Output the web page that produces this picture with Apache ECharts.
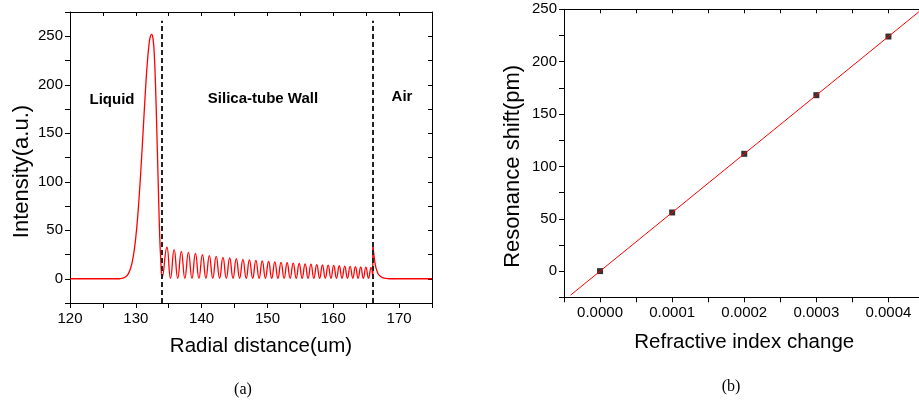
<!DOCTYPE html>
<html>
<head>
<meta charset="utf-8">
<script src="https://cdn.jsdelivr.net/npm/echarts@6/dist/echarts.min.js"></script>
<style>
  html, body { margin: 0; background: #fff; }
  #chart { width: 919px; height: 405px; }
</style>
</head>
<body>
<div id="chart"></div>
<script>
// (a) intensity profile across the tube
const liquidX = [120, 127.5, 128.0, 128.25, 128.5, 128.75, 129.0, 129.25, 129.5, 129.75, 130.0, 130.25, 130.5, 130.75,
  131.0, 131.25, 131.5, 131.75, 132.0, 132.2, 132.4, 132.6, 132.8, 133.0, 133.2, 133.4, 133.6, 133.8, 134.0]
const liquidY = [0, 0, 0.6, 1.2, 2.3, 4.1, 7.1, 11.8, 18.9, 29, 43, 61, 84, 110,
  139, 169, 198, 223, 241, 249.5, 252, 248, 232, 198, 150, 100, 50, 18, 1]

// peaks and troughs of the fringes inside the silica wall
const wallX = [134.72, 135.27, 135.82, 136.37, 136.91, 137.45, 137.99, 138.53, 139.06, 139.59,
  140.12, 140.65, 141.17, 141.69, 142.21, 142.73, 143.24, 143.75, 144.26, 144.77,
  145.27, 145.77, 146.27, 146.77, 147.26, 147.75, 148.24, 148.73, 149.21, 149.69,
  150.17, 150.65, 151.12, 151.59, 152.06, 152.53, 152.99, 153.45, 153.91, 154.37,
  154.82, 155.27, 155.72, 156.17, 156.61, 157.05, 157.49, 157.93, 158.36, 158.79,
  159.22, 159.65, 160.07, 160.49, 160.91, 161.33, 161.74, 162.15, 162.56, 162.97,
  163.37, 163.77, 164.17, 164.57, 164.96, 165.35, 165.74, 166.0]
const wallY = [32.5, 0.5, 30.0, 0.5, 28.3, 0.5, 27.2, 0.5, 26.2, 0.5,
  24.9, 0.5, 23.9, 0.5, 23.1, 0.5, 22.1, 0.5, 21.4, 0.5,
  20.7, 0.5, 20.0, 0.5, 19.4, 0.5, 19.0, 0.5, 18.4, 0.5,
  17.8, 0.5, 17.3, 0.5, 16.9, 0.5, 16.5, 0.5, 16.1, 0.5,
  15.7, 0.5, 15.3, 0.5, 15.0, 0.5, 14.6, 0.5, 14.3, 0.5,
  14.0, 0.5, 13.7, 0.5, 13.4, 0.5, 13.1, 0.5, 12.8, 0.5,
  12.5, 0.5, 12.2, 0.5, 12.0, 0.5, 11.7, 1.5]

const airX = [166.0, 166.01, 166.15, 166.3, 166.5, 166.75, 167.0, 167.4, 167.9, 168.5, 175]
const airY = [1.5, 37, 26, 18, 11, 6, 3.5, 1.5, 0.5, 0, 0]

const boundaries = [134, 166]

// (b) resonance shift vs refractive index change
const indexChange = [0, 0.0001, 0.0002, 0.0003, 0.0004]
const shiftPm = [0, 56, 112, 168, 224]
const fitX = [-0.000041, 0.00045]
const fitY = [-23, 252]

const FONT = '"Liberation Sans", Arial, sans-serif'
const pairs = (xs, ys) => xs.map((x, i) => [x, ys[i]])

const profile = [...pairs(liquidX, liquidY), ...pairs(wallX, wallY), ...pairs(airX, airY)]

const line = { onZero: false, lineStyle: { color: '#000', width: 1 } }
const tickOut = { length: 5, lineStyle: { color: '#000' } }
const tickIn = { inside: true, length: 4, lineStyle: { color: '#000' } }
const label = (fmt, margin) => ({ fontFamily: FONT, fontSize: 15, color: '#000', margin, formatter: fmt })
const mirror = { axisLabel: { show: false }, axisTick: tickIn, axisLine: line, splitLine: { show: false } }

const every = (step) => (v) => {
  const k = v / step
  return Math.abs(k - Math.round(k)) < 1e-6 ? String(v) : ''
}
const every4 = (v) => {
  const k = v / 0.0001
  return Math.abs(k - Math.round(k)) < 1e-6 ? (Math.round(k) * 0.0001).toFixed(4) : ''
}

const chart = echarts.init(document.getElementById('chart'))
chart.setOption({
  animation: false,
  backgroundColor: '#fff',
  grid: [
    { left: 70, top: 12, width: 362, height: 291, outerBoundsMode: 'none' },
    { left: 564, top: 9.3, width: 360.5, height: 288, outerBoundsMode: 'none' },
  ],
  xAxis: [
    {
      gridIndex: 0, type: 'value', min: 120, max: 175, interval: 5,
      name: 'Radial distance(um)', nameLocation: 'middle', nameGap: 33,
      nameTextStyle: { fontFamily: FONT, fontSize: 20.5, color: '#000', padding: [0, 0, 0, 20] },
      axisLine: line, axisTick: tickOut, axisLabel: label(every(10), 8), splitLine: { show: false },
    },
    { gridIndex: 0, type: 'value', position: 'top', min: 120, max: 175, interval: 5, ...mirror },
    {
      gridIndex: 1, type: 'value', min: -0.00005, max: 0.00045, interval: 0.00005,
      name: 'Refractive index change', nameLocation: 'middle', nameGap: 35,
      nameTextStyle: { fontFamily: FONT, fontSize: 20.5, color: '#000' },
      axisLine: line, axisTick: tickOut, axisLabel: label(every4, 8), splitLine: { show: false },
    },
    { gridIndex: 1, type: 'value', position: 'top', min: -0.00005, max: 0.00045, interval: 0.00005, ...mirror },
  ],
  yAxis: [
    {
      gridIndex: 0, type: 'value', min: -25, max: 275, interval: 25,
      name: 'Intensity(a.u.)', nameLocation: 'middle', nameGap: 37,
      nameTextStyle: { fontFamily: FONT, fontSize: 22, color: '#000', padding: [0, 28, 0, 0] },
      axisLine: line, axisTick: tickOut, axisLabel: label(every(50), 7), splitLine: { show: false },
    },
    { gridIndex: 0, type: 'value', position: 'right', min: -25, max: 275, interval: 25, ...mirror },
    {
      gridIndex: 1, type: 'value', min: -25, max: 250, interval: 25,
      name: 'Resonance shift(pm)', nameLocation: 'middle', nameGap: 40,
      nameTextStyle: { fontFamily: FONT, fontSize: 22, color: '#000', padding: [0, 26, 0, 0] },
      axisLine: line, axisTick: tickOut, axisLabel: label(every(50), 7), splitLine: { show: false },
    },
  ],
  series: [
    {
      type: 'line', xAxisIndex: 0, yAxisIndex: 0, data: profile,
      smooth: true, symbol: 'none',
      lineStyle: { color: '#ff0000', width: 1.3 },
      markLine: {
        silent: true, symbol: 'none', label: { show: false },
        lineStyle: { type: [5, 3], color: '#222', width: 2 },
        data: boundaries.map(b => [{ coord: [b, -25] }, { coord: [b, 266] }]),
      },
    },
    {
      type: 'scatter', xAxisIndex: 2, yAxisIndex: 2,
      data: pairs(indexChange, shiftPm),
      symbol: 'rect', symbolSize: 6, itemStyle: { color: '#000' },
    },
    {
      type: 'line', xAxisIndex: 2, yAxisIndex: 2, data: pairs(fitX, fitY),
      symbol: 'none', z: 3, lineStyle: { color: '#ff0000', width: 1 },
    },
  ],
  graphic: [
    { type: 'text', x: 112, y: 100, style: { text: 'Liquid', font: 'bold 15px ' + FONT, fill: '#000', align: 'center', verticalAlign: 'middle' } },
    { type: 'text', x: 263, y: 99, style: { text: 'Silica-tube Wall', font: 'bold 15px ' + FONT, fill: '#000', align: 'center', verticalAlign: 'middle' } },
    { type: 'text', x: 402, y: 97, style: { text: 'Air', font: 'bold 15px ' + FONT, fill: '#000', align: 'center', verticalAlign: 'middle' } },
    { type: 'text', x: 243, y: 390, style: { text: '(a)', font: '16px "Liberation Serif", serif', fill: '#000', align: 'center', verticalAlign: 'middle' } },
    { type: 'text', x: 731, y: 387, style: { text: '(b)', font: '16px "Liberation Serif", serif', fill: '#000', align: 'center', verticalAlign: 'middle' } },
  ],
})
</script>
</body>
</html>
